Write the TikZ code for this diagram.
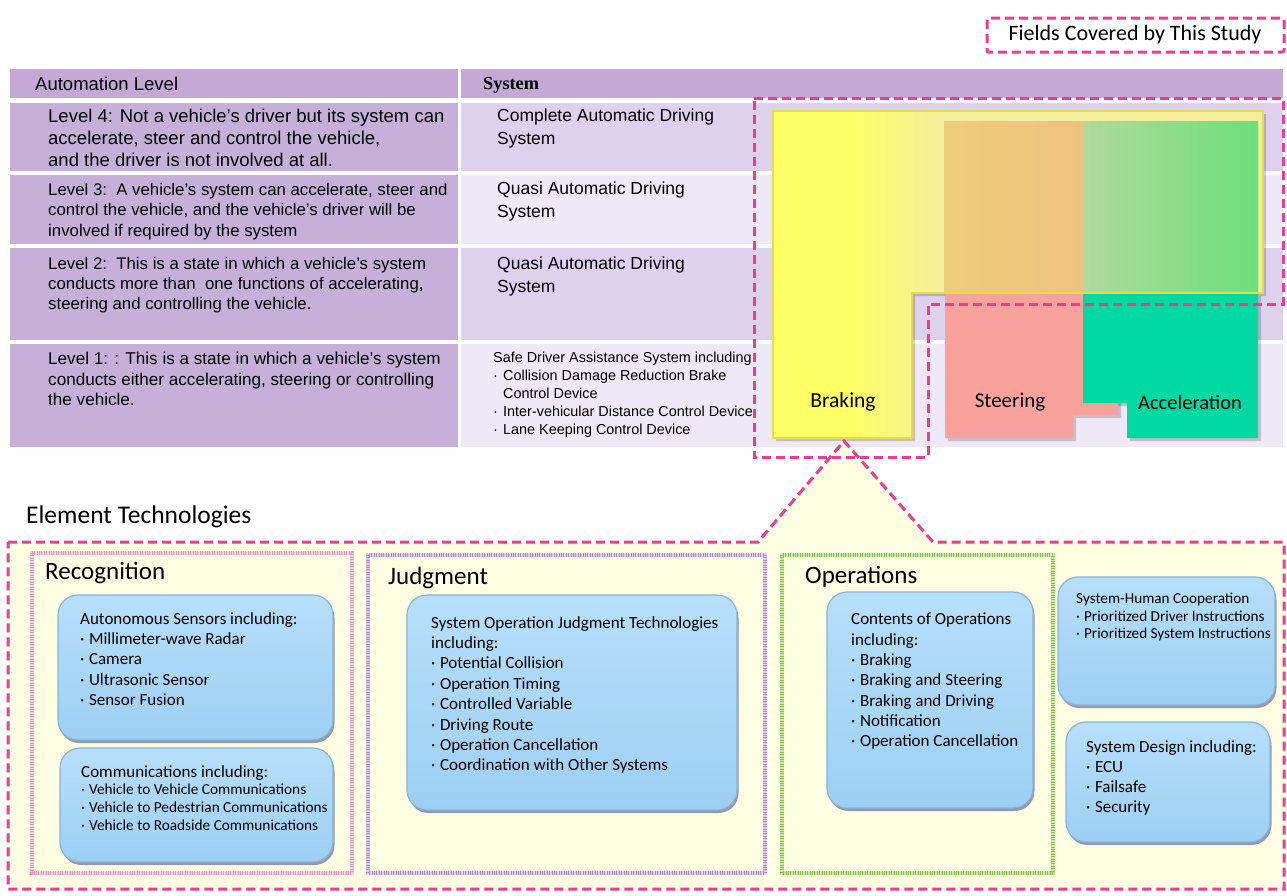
\documentclass[tikz,border=0pt]{standalone}
\usepackage{fontspec}
\setmainfont{Carlito}
\newfontfamily\arialf{Liberation Sans}
\newfontfamily\tnrf{Liberation Serif}
\usetikzlibrary{shadows}
\definecolor{pinkd}{HTML}{EE3D8F}
\definecolor{hdr}{HTML}{C4A9D6}
\definecolor{lcol}{HTML}{C6AFD9}
\definecolor{rdark}{HTML}{DDD1EF}
\definecolor{rlight}{HTML}{EEE8F8}
\definecolor{cream}{HTML}{FEFEE2}
\definecolor{Y1}{HTML}{FFFF66}
\definecolor{Y2}{HTML}{F2EE9C}
\definecolor{yline}{HTML}{E6DE48}
\definecolor{orng}{HTML}{EDC27E}
\definecolor{orngl}{HTML}{F0CC7A}
\definecolor{gpale}{HTML}{B0DA9C}
\definecolor{gbright}{HTML}{6CDF7C}
\definecolor{salmon}{HTML}{F9A19B}
\definecolor{tealg}{HTML}{00D9A2}
\definecolor{bluetop}{HTML}{B6DFFA}
\definecolor{bluebot}{HTML}{9DCFF4}
\definecolor{blueline}{HTML}{86B4DE}
\definecolor{recb}{HTML}{E597BE}
\definecolor{judb}{HTML}{B08ADA}
\definecolor{opb}{HTML}{86C545}
\newcommand\fs[2]{\fontsize{#1}{#2}\selectfont}
\newcommand\bu{\makebox[0.52em][l]{·}}
\tikzset{
  pinkdash/.style={draw=pinkd, line width=3pt, dash pattern=on 9pt off 5pt},
  txt/.style={inner sep=0pt, anchor=north west, align=left},
  lbl/.style={inner sep=0pt, anchor=west},
  bluebox/.style={rounded corners=20pt, top color=bluetop, bottom color=bluebot,
     draw=blueline, line width=1.2pt,
     drop shadow={shadow xshift=1.5pt, shadow yshift=-3pt, opacity=0.4, fill=blue!30!black}},
  zzback/.style={draw=#1!45, line width=3.5pt},
  zzfront/.style={draw=#1, line width=3.5pt, dash pattern=on 1pt off 1.4pt},
}
\begin{document}
\begin{tikzpicture}[x=1pt,y=-1pt]
\useasboundingbox[fill=white] (0,0) rectangle (1287,895);

% legend
\draw[pinkdash, rounded corners=2pt] (987,18) rectangle (1284,52);
\node[inner sep=0pt, font=\fs{22}{26}] (legend) at (1135,35) {Fields Covered by This Study};

% table backgrounds
\fill[hdr] (10,69) rectangle (458,98);
\fill[hdr] (461,69) rectangle (1283,98);
\fill[lcol] (10,103) rectangle (458,171);
\fill[lcol] (10,175) rectangle (458,244);
\fill[lcol] (10,248) rectangle (458,340);
\fill[lcol] (10,344) rectangle (458,447);
\fill[rdark] (461,103) rectangle (1283,171);
\fill[rlight] (461,175) rectangle (1283,244);
\fill[rdark] (461,248) rectangle (1283,340);
\fill[rlight] (461,344) rectangle (1283,447);

% table texts
\node[lbl, font=\arialf\fs{18.5}{20}] (hA) at (35,84) {Automation Level};
\node[lbl, font=\tnrf\bfseries\fs{18.3}{20}] (hS) at (483,85) {System};
\node[txt, font=\arialf\fs{18.5}{22}] (l4) at (48,109) {Level 4: Not a vehicle’s driver but its system can\\accelerate, steer and control the vehicle,\\and the driver is not involved at all.};
\node[txt, font=\arialf\fs{16.8}{20.5}] (l3) at (48,183) {Level 3:\ \ A vehicle’s system can accelerate, steer and\\control the vehicle, and the vehicle’s driver will be\\involved if required by the system};
\node[txt, font=\arialf\fs{16.8}{20}] (l2) at (48,257) {Level 2:\ \ This is a state in which a vehicle’s system\\conducts more than\ \ one functions of accelerating,\\steering and controlling the vehicle.};
\node[txt, font=\arialf\fs{17.1}{20.5}] (l1) at (48,352) {Level 1: : This is a state in which a vehicle’s system\\conducts either accelerating, steering or controlling\\the vehicle.};
\node[txt, font=\arialf\fs{17.5}{22.5}] (s4) at (497,109) {Complete Automatic Driving\\System};
\node[txt, font=\arialf\fs{17.5}{22.5}] (s3) at (497,182) {Quasi Automatic Driving\\System};
\node[txt, font=\arialf\fs{17.5}{22.5}] (s2) at (497,257) {Quasi Automatic Driving\\System};
\node[txt, font=\arialf\fs{14.4}{18}] (s1) at (493,352) {Safe Driver Assistance System including\\\makebox[10pt][l]{·}Collision Damage Reduction Brake\\\hspace*{10pt}Control Device\\\makebox[10pt][l]{·}Inter-vehicular Distance Control Device,\\\makebox[10pt][l]{·}Lane Keeping Control Device};

% braking / steering / acceleration blocks
\fill[black, opacity=0.18] (776,114) -- (1266,114) -- (1266,296) -- (915,296) -- (915,441) -- (776,441) -- cycle;
\begin{scope}
\clip (773,111) -- (1263,111) -- (1263,293) -- (912,293) -- (912,438) -- (773,438) -- cycle;
\fill[Y1] (773,111) rectangle (850,438);
\shade[left color=Y1, right color=Y2] (850,111) rectangle (944,438);
\fill[Y2] (944,111) rectangle (1263,293);
\end{scope}
\shade[left color=orngl, right color=orng] (944,121) rectangle (1083,293);
\shade[left color=gpale, right color=gbright] (1083,121) rectangle (1258,293);
\draw[yline, line width=2pt] (773,111) -- (1263,111) -- (1263,293) -- (912,293) -- (912,438) -- (773,438) -- cycle;
\fill[black, opacity=0.18] (948,296) -- (1121,296) -- (1121,418) -- (1076,418) -- (1076,441) -- (948,441) -- cycle;
\fill[black, opacity=0.18] (1086,296) -- (1261,296) -- (1261,441) -- (1130,441) -- (1130,406) -- (1086,406) -- cycle;
\fill[salmon] (945,294) -- (1118,294) -- (1118,415) -- (1073,415) -- (1073,438) -- (945,438) -- cycle;
\fill[tealg] (1083,294) -- (1258,294) -- (1258,438) -- (1127,438) -- (1127,403) -- (1083,403) -- cycle;
\node[inner sep=0pt, font=\fs{21.5}{24}] (brk) at (843,402) {Braking};
\node[inner sep=0pt, font=\fs{21}{24}] (str) at (1010,402) {Steering};
\node[inner sep=0pt, font=\fs{20.5}{24}] (acc) at (1190,402) {Acceleration};

% element technologies region
\node[lbl, font=\fs{25.5}{30}] (et) at (26,517) {Element Technologies};
\fill[cream] (8,542) -- (758,542) -- (844,441) -- (933,542) -- (1284,542) -- (1284,889) -- (8,889) -- cycle;
\draw[pinkdash] (8,542) -- (758,542) -- (844,441) -- (933,542) -- (1284,542) -- (1284,889) -- (8,889) -- cycle;

% fields covered region
\draw[pinkdash] (754,98) -- (1283,98) -- (1283,304) -- (928,304) -- (928,457) -- (754,457) -- cycle;

% Recognition
\draw[zzback=recb] (32,553) rectangle (352,873);
\draw[zzfront=recb] (32,553) rectangle (352,873);
\node[lbl, font=\fs{25}{30}] (rec) at (45,573) {Recognition};
\path[bluebox] (58,595) rectangle (333,740);
\node[txt, font=\fs{17}{20.4}] (rec1) at (80,612) {Autonomous Sensors including:\\\bu Millimeter-wave Radar\\\bu Camera\\\bu Ultrasonic Sensor\\\bu Sensor Fusion};
\path[bluebox] (60,748) rectangle (333,862);
\node[txt, font=\fs{17}{18}] (rec2h) at (81,765) {Communications including:};
\node[txt, font=\fs{15.3}{18}] (rec2) at (81,784) {\bu Vehicle to Vehicle Communications\\\bu Vehicle to Pedestrian Communications\\\bu Vehicle to Roadside Communications};

% Judgment
\draw[zzback=judb] (368,555) rectangle (765,873);
\draw[zzfront=judb] (368,555) rectangle (765,873);
\node[lbl, font=\fs{25}{30}] (jud) at (388,578) {Judgment};
\path[bluebox] (407,595) rectangle (737,810);
\node[txt, font=\fs{17}{20.4}] (jud1) at (431,616) {System Operation Judgment Technologies\\including:\\\bu Potential Collision\\\bu Operation Timing\\\bu Controlled Variable\\\bu Driving Route\\\bu Operation Cancellation\\\bu Coordination with Other Systems};

% Operations
\draw[zzback=opb] (782,555) rectangle (1053,873);
\draw[zzfront=opb] (782,555) rectangle (1053,873);
\node[lbl, font=\fs{25}{30}] (ops) at (805,577) {Operations};
\path[bluebox] (827,592) rectangle (1033,808);
\node[txt, font=\fs{17}{20.3}] (ops1) at (851,613) {Contents of Operations\\including:\\\bu Braking\\\bu Braking and Steering\\\bu Braking and Driving\\\bu Notification\\\bu Operation Cancellation};

% System-Human Cooperation
\path[bluebox] (1058,577) rectangle (1275,705);
\node[txt, font=\fs{15.2}{17.5}] (shc) at (1076,593) {System-Human Cooperation\\\bu Prioritized Driver Instructions\\\bu Prioritized System Instructions};

% System Design
\path[bluebox] (1066,722) rectangle (1270,842);
\node[txt, font=\fs{17}{20}] (sd) at (1086,740) {System Design including:\\\bu ECU\\\bu Failsafe\\\bu Security};
\end{tikzpicture}
\end{document}
